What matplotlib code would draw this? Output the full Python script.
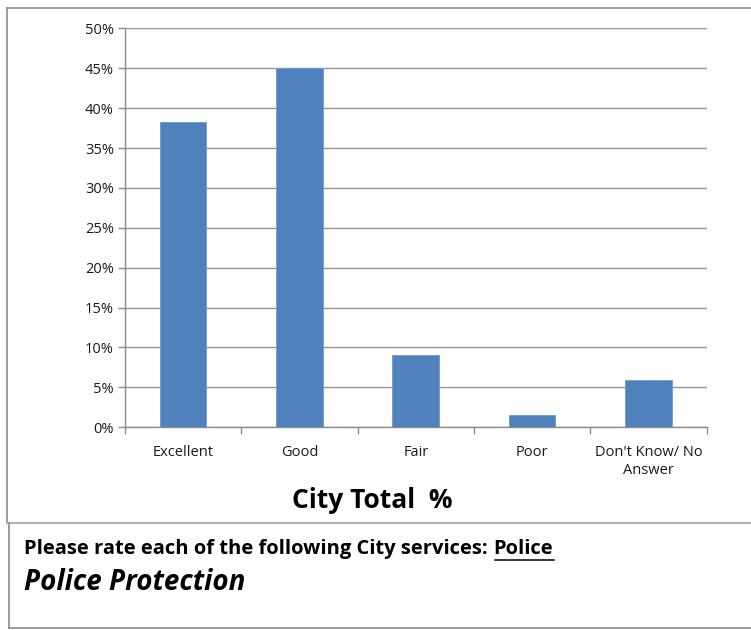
import matplotlib
matplotlib.use("Agg")
import matplotlib.pyplot as plt
from matplotlib.lines import Line2D

categories = ["Excellent", "Good", "Fair", "Poor", "Don't Know/ No\nAnswer"]
city_total_pct = [38.3, 45.0, 9.1, 1.6, 5.9]
y_ticks = [0, 5, 10, 15, 20, 25, 30, 35, 40, 45, 50]
y_tick_labels = [f"{v}%" for v in y_ticks]

W, H = 751, 630
FONT = ["Open Sans", "DejaVu Sans"]
plt.rcParams["font.family"] = FONT

fig = plt.figure(figsize=(W / 100, H / 100), dpi=100)
fig.patch.set_facecolor("white")


def fx(px):
    return px / W


def fy(py):
    return 1 - py / H


# chart frame and text box frame
edge = "#8c8c8c"
fig.add_artist(Line2D([fx(7), fx(7)], [fy(8), fy(523)], color=edge, lw=1.2))
fig.add_artist(Line2D([fx(7), fx(751)], [fy(8), fy(8)], color=edge, lw=1.2))
fig.add_artist(Line2D([fx(7), fx(751)], [fy(523), fy(523)], color="#b0b0b0", lw=1.5))
fig.add_artist(Line2D([fx(9), fx(9)], [fy(523), fy(628)], color=edge, lw=1.2))
fig.add_artist(Line2D([fx(9), fx(751)], [fy(628), fy(628)], color=edge, lw=1.2))

# plot area
left, right, top, bottom = 125, 706.5, 28.3, 427.3
ax = fig.add_axes([fx(left), fy(bottom), fx(right - left), (bottom - top) / H])
x = list(range(len(categories)))
ax.bar(x, city_total_pct, width=0.4, color="#4F81BD", edgecolor="#6f9bd0",
       linewidth=0.6, zorder=3)
ax.set_xlim(-0.5, len(categories) - 0.5)
ax.set_ylim(0, 50)
ax.set_yticks(y_ticks)
ax.set_yticklabels(y_tick_labels, fontsize=10.5, color="#1a1a1a")
ax.yaxis.grid(True, color="#959595", lw=1.0, zorder=0)
ax.set_axisbelow(True)

ax.set_xticks(x)
ax.set_xticklabels(categories, fontsize=10.5, color="#1a1a1a")
ax.tick_params(axis="x", length=0, pad=13)
ax.set_xticks([i - 0.5 for i in range(len(categories) + 1)], minor=True)
ax.tick_params(axis="x", which="minor", length=5, color=edge, width=1)
ax.tick_params(axis="y", length=5, color=edge, width=1, pad=3)

for s in ["top", "right"]:
    ax.spines[s].set_visible(False)
ax.spines["left"].set_color(edge)
ax.spines["bottom"].set_color(edge)
ax.spines["left"].set_linewidth(1)
ax.spines["bottom"].set_linewidth(1)

fig.text(fx(372), fy(500), "City Total  %", ha="center", va="center",
         fontsize=19, fontweight="bold", color="black")

# question text, with the service name underlined
q1 = fig.text(fx(24), fy(549), "Please rate each of the following City services: ",
              ha="left", va="center", fontsize=14.5, fontweight="bold", color="black")
fig.canvas.draw()
bb = q1.get_window_extent()
q2 = fig.text(bb.x1 / W, fy(549), "Police", ha="left", va="center",
              fontsize=14.5, fontweight="bold", color="black")
fig.canvas.draw()
bb2 = q2.get_window_extent()
fig.add_artist(Line2D([(bb2.x0 + 2) / W, (bb2.x1 + 1) / W], [fy(560), fy(560)],
                      color="black", lw=1.1))

fig.text(fx(24), fy(582), "Police Protection", ha="left", va="center",
         fontsize=20, fontweight="bold", fontstyle="italic", color="black")

fig.savefig("out.png", dpi=100, facecolor="white")
